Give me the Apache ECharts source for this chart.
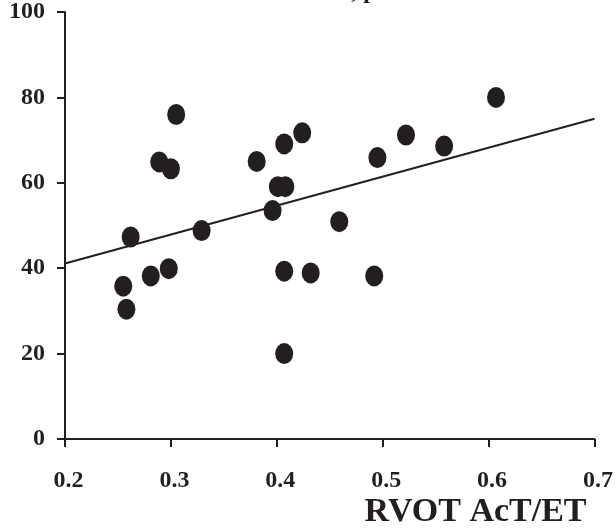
<!DOCTYPE html>
<html>
<head>
<meta charset="utf-8">
<script src="https://cdn.jsdelivr.net/npm/echarts@6/dist/echarts.min.js"></script>
<style>html,body{margin:0;padding:0;background:#fff}#c{width:616px;height:529px}</style>
</head>
<body>
<div id="c"></div>
<script>
const xValues = [0.255, 0.258, 0.262, 0.281, 0.289, 0.300, 0.298, 0.305, 0.329, 0.381, 0.396, 0.401, 0.408, 0.407, 0.424, 0.407, 0.432, 0.407, 0.459, 0.495, 0.492, 0.522, 0.558, 0.607];
const yValues = [35.8, 30.4, 47.3, 38.2, 64.9, 63.3, 39.9, 76.0, 48.8, 65.0, 53.5, 59.1, 59.1, 69.1, 71.7, 39.3, 38.9, 20.0, 50.9, 65.9, 38.2, 71.2, 68.6, 80.0];
const fitX = [0.2, 0.7];
const fitY = [41.1, 75.0];
const xTicks = [0.2, 0.3, 0.4, 0.5, 0.6, 0.7];
const yTicks = [0, 20, 40, 60, 80, 100];
const xName = 'RVOT AcT/ET';
const titleText = 'r = 0.41, p = 0.03';

const ink = '#231f20';
const font = "'Liberation Serif', 'Times New Roman', serif";
const chart = echarts.init(document.getElementById('c'));
chart.setOption({
  animation: false,
  backgroundColor: '#fff',
  grid: { left: 65, right: 19, top: 11, bottom: 89, containLabel: false },
  graphic: [{
    type: 'text', left: 273, top: -20,
    style: { text: titleText, font: 'bold 24px ' + font, fill: ink }
  }],
  xAxis: {
    type: 'value', min: xTicks[0], max: xTicks[xTicks.length - 1], interval: 0.1,
    splitLine: { show: false },
    axisLine: { lineStyle: { color: ink, width: 2 } },
    axisTick: { show: true, length: 8, inside: false, lineStyle: { color: ink, width: 2 } },
    axisLabel: { margin: 30, color: ink, fontFamily: font, fontWeight: 'bold', fontSize: 24,
      padding: [0, 0, 0, 7], formatter: v => v.toFixed(1) },
    name: xName, nameLocation: 'end', nameGap: -8,
    nameTextStyle: { color: ink, fontFamily: font, fontWeight: 'bold', fontSize: 34,
      align: 'right', verticalAlign: 'top', padding: [56, 0, 0, 0] }
  },
  yAxis: {
    type: 'value', min: yTicks[0], max: yTicks[yTicks.length - 1], interval: 20,
    splitLine: { show: false },
    axisLine: { show: true, lineStyle: { color: ink, width: 2 } },
    axisTick: { show: true, length: 8, inside: false, lineStyle: { color: ink, width: 2 } },
    axisLabel: { margin: 20, color: ink, fontFamily: font, fontWeight: 'bold', fontSize: 24,
      padding: [8, 0, 0, 0] }
  },
  series: [
    {
      type: 'line', data: fitX.map((x, i) => [x, fitY[i]]), symbol: 'none',
      lineStyle: { color: ink, width: 2 }, z: 1, silent: true
    },
    {
      type: 'scatter', data: xValues.map((x, i) => [x, yValues[i]]),
      symbol: 'circle', symbolSize: [18, 21],
      itemStyle: { color: ink, opacity: 1 }, z: 2
    }
  ]
});
</script>
</body>
</html>
